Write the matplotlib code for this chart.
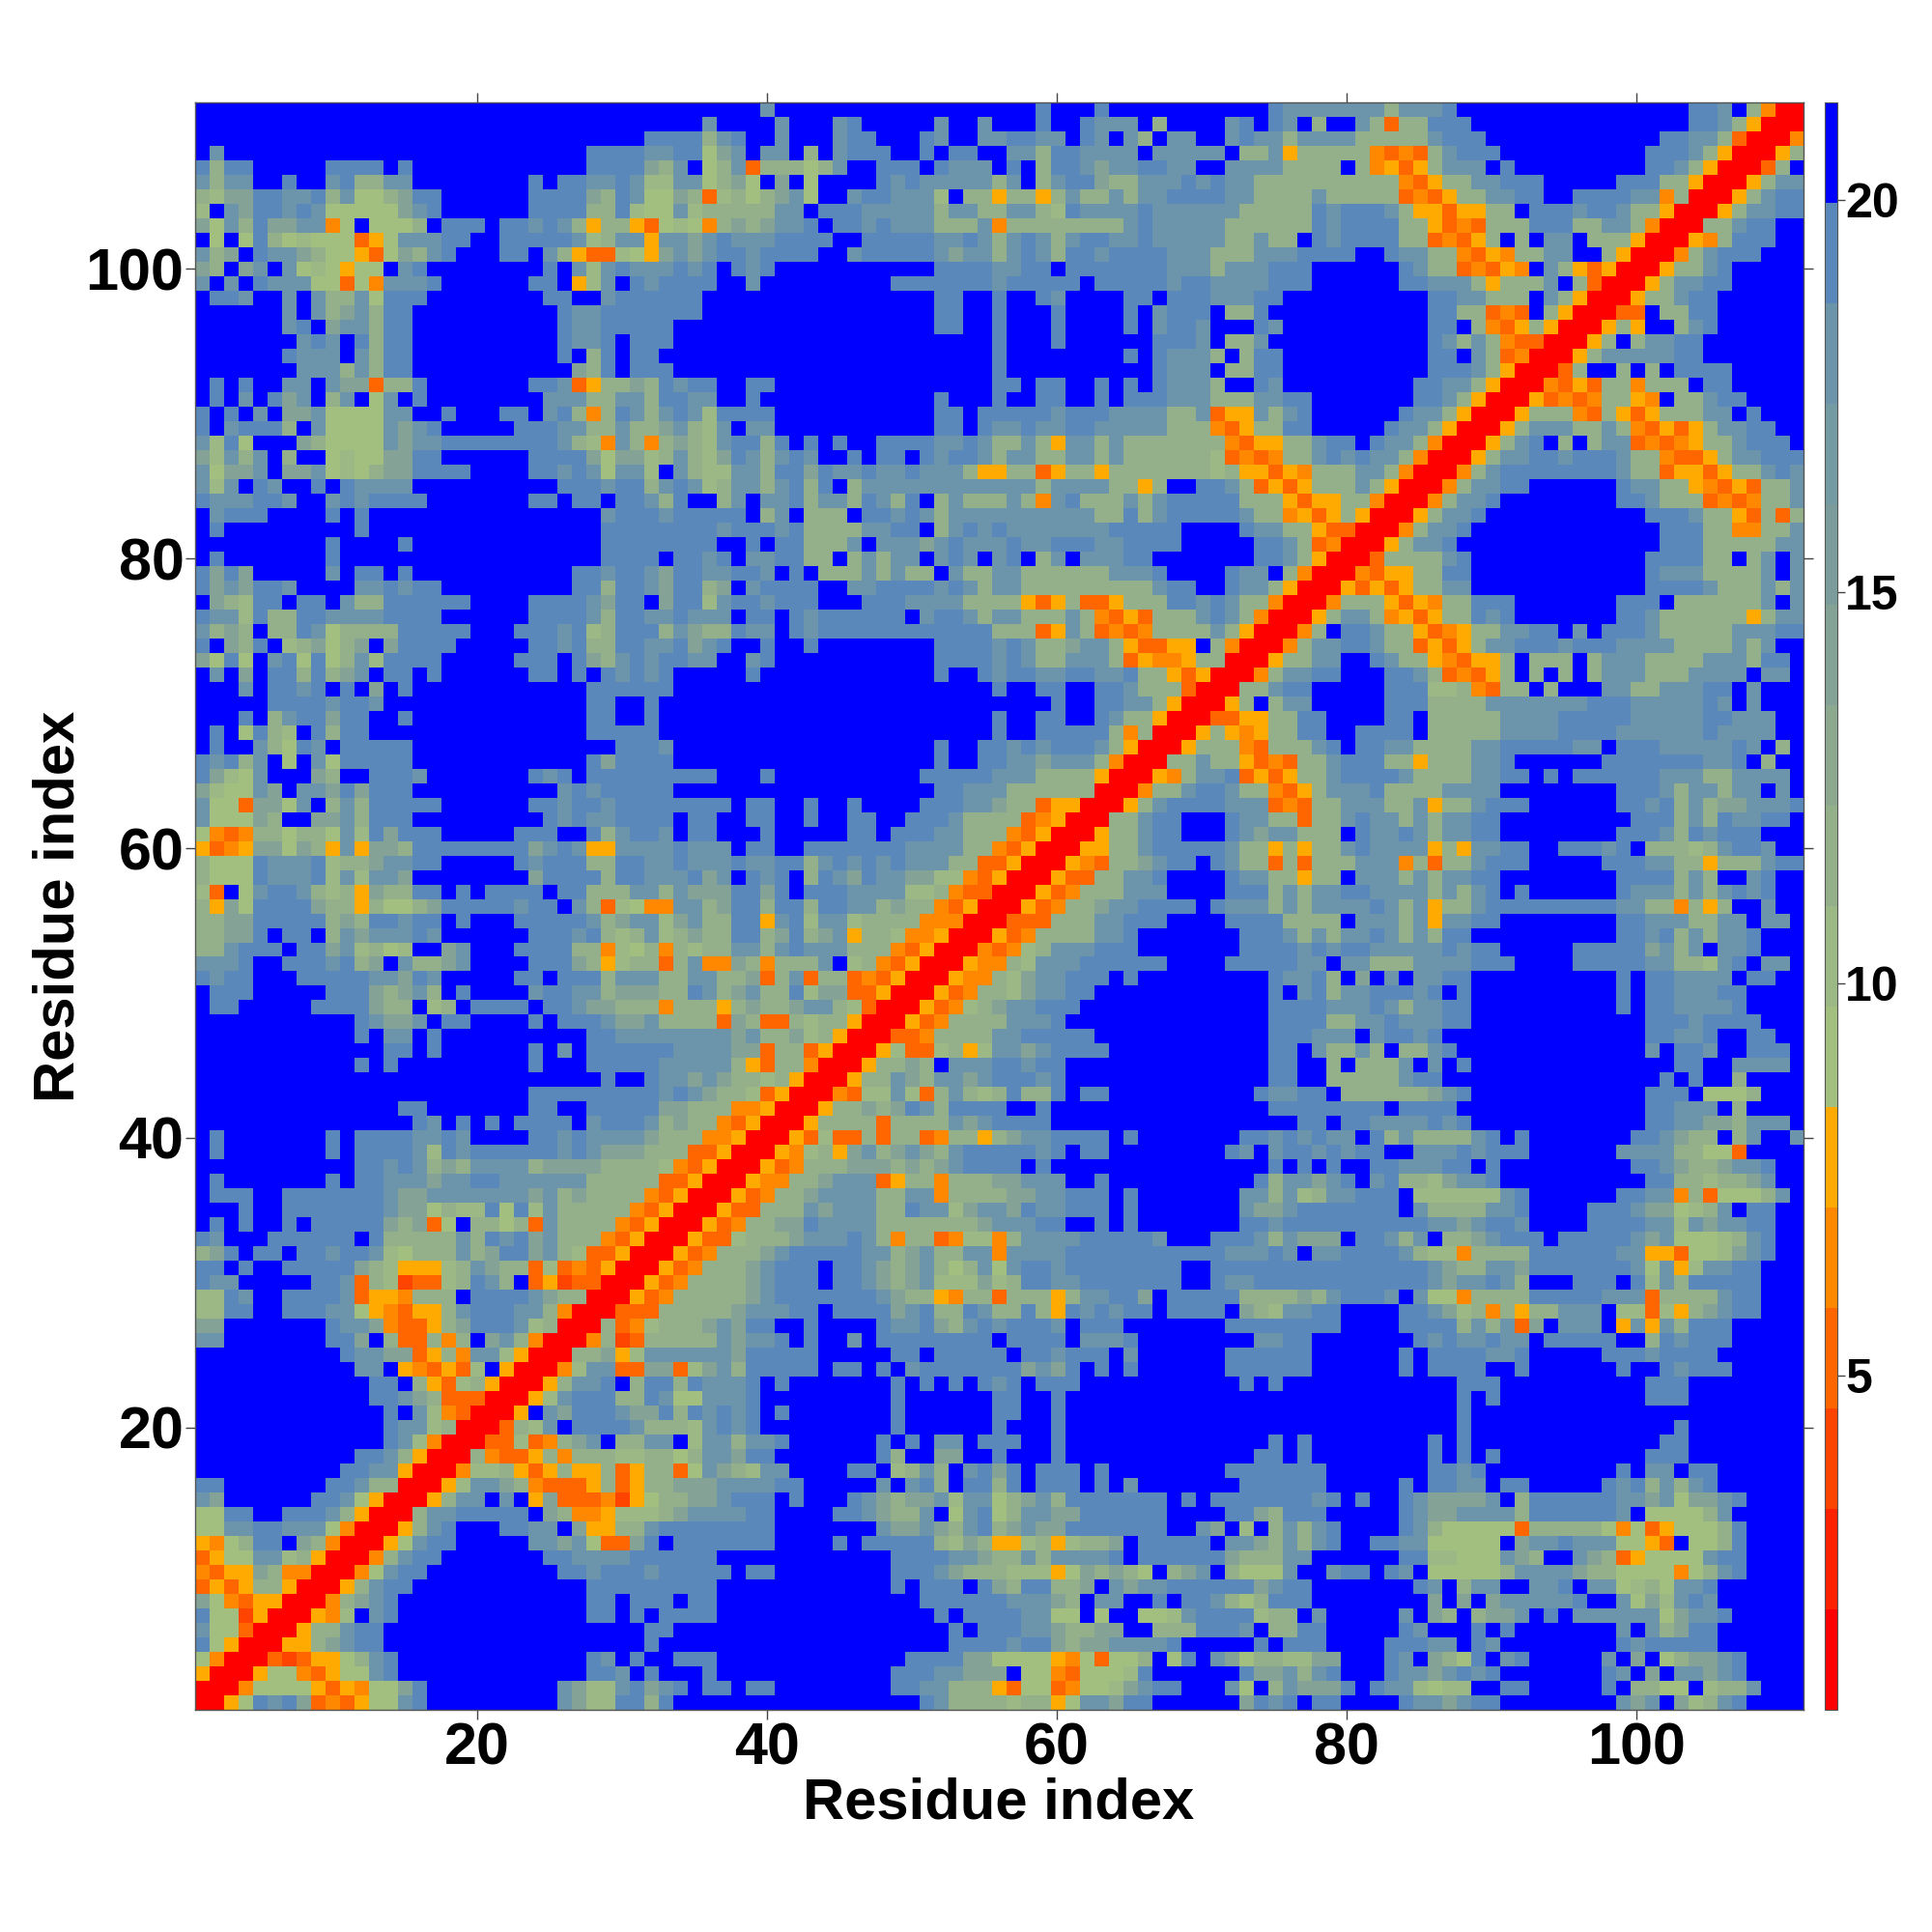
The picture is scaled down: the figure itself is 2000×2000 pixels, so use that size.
"""Residue distance map, binned; only the half with x >= y is stored."""

import matplotlib

matplotlib.use("Agg")
import matplotlib.pyplot as plt
import numpy as np
from matplotlib.colors import BoundaryNorm, ListedColormap

N_RES = 111

# one row per residue y, starting at x = y; each char is a distance bin code
ROW_CODES = [
    "0056dcdb34 3577cdffff fffffcb99d dadfffffff ffffffffff dcaaaa9aa5 7ccbddffff ffbdcdfddf fffdccbcdd ffffffffcb cfb9acdffff",
    "004888853 5478bdffff fffffcb99c dbcdfddfdd ffffffffdd ccaaa53773 4889bcddff fc8facbbbd fdcc9799ff ddfffffdfa a88f9aacfff",
    "00588435 88cdffffff fffffffddc fdfffdffff ffffffffdd dccbbbf884 38889dffff ffdbbcacdf ffdccbcdcd fffffffdcf bfccbcdffff",
    "0032355 8acdffffff fffffffdcf dffdddffff fffffffffd dddbb88885 48388af8df cb7aa99bbf ffdcfba8df cdfffffcfb f7abbcdffff",
    "0055ab cddfffffff ffffffffff fdffffffff ffffffffff ffddddcddb abbccccdff fffdfdddff ffdddccfdc ffffffffdc dddddffffff",
    "005aa cddfffffff ffffffffff fddfffffff ffffffffff ffdfdddccb aabbffaaad ddcfaaddff fffdcfffdf dfffffffcf cabddffffff",
    "0054 9fcdffffff fffffffddf dfddddffff ffffffffff fdfddddcc8 8f7ff889cd ddd9aafcff fffcfbafab bcfdfccccc c7bccdfffff",
    "004 abcdffffff fffffffddf dddfddffff ffffffffff ddddddcccb afccffdfdd ca7adddfff fffffbfbfb cccccdffc8 b9cdcffffff",
    "00 5acddfffff fffffffddd ddddddffff ffffffffdf dddfdbadda abfcbccddd dddbcddfff ffffdcfacc ffccdfcc89 a8ccdffffff",
    "0 048cddffff fffffddcdd dcdddddfdd ffffffffdd dcbaaa9995 8baba8fabc fa877cffcd dfdcf77777 accccbaa77 7748acdffff",
    "004acddfff ffffddcccc ddddddffff ffffffffdd ddccbaacac cccdfddddd dbaaaccfff fffdd99888 cbaffcba35 8888cddffff",
    "0058cddff fffccbc833 bdfddddddd ffffdfdddd da9ba559a5 9aabfddddd fccbacacdf fddcc77778 fbccdccc88 53f88adffff",
    "005acdff fddccfb55a acdddddddd fffffffcbb cbacdabcbb dddddddffc bf9facacdf fffdca8777 73aaaaa848 35888adffff",
    "00accdd dddfba4459 99abccccdd ffffddcbaa cf8cd8accb bddddddfff fddbadddff fffdcbbccc caddddddcf 8888acfffff",
    "005acc fcf5b33342 58aabbcddd fdfffdcbab bc9cc8abca dddddddfdf dddddddcdf dffdcbbbbc faddddddcc bc8bbcdffff",
    "0059c cba43335a3 5aabbbcccc ddfffffcfc dafddadfdd dfdfcfffff ffddddddff fffdfddccf ddfffffdcd acacdffffff",
    "0049 9a535a55a3 5aa38cba9c cffffddf9a cafcdbdfdd dfdfffffff fdddddddff fffffddcdf ffffffffdf ccfddffffff",
    "00a 4335a4aaa9 9aa8accbdd fffffffdaf fbbffdfffd ffffffffff fffddfdfff fffffdfdfd ffffffffff dddffffffff",
    "00 33934abcfa accf9ccacc dffffffdfd fccfdddffd ffffffffff ffffdfdfff fffffdfdff ffffffffff fddffffffff",
    "0 03a9cfdddd caaa9cdcdf ffffffffdf fffffdfffd ffffffffff ffffffffff fffffffdff ffffffffff ffdffffffff",
    "005fcbdddc bbdadcdcdf dfffffffdf fffffddffd ffffffffff ffffffffff fffffffdff ffffffffff fffffffffff",
    "0059cddda adc88cccdf ffffffffdf fffffddffd ffffffffff ffffffffff fffffffdfd ffffffffff dddffffffff",
    "005accdf addadcccdf dfffffffdf dfdfdcdfdd dfffffffff ffdfdfffff fffffffddd ffffffffff dddffffffff",
    "0049cc3 3bb39bcadd dddfddfdfc dddddddbcb dfdfdfffff fddddddfff fffdfddddf fdffffffdf fdcdddfffff",
    "00aab5 9ccccccbdd dddfffffdd fdddddfddc dddfcfffff fddddddfff fffdfddddc cdfffffddd cddddffffff",
    "004a2 3aaaaacbcc dfdffcfddd dddddfdddd fcccdfffff fffccddfff ffffdcdccd ccfdddddff adcdddfffff",
    "00a3 49aaabcbdd ffdffffdcc dbacdcdddc fdddffffff fddddddddf fffddddaca c3bfcccf5c 5cadddfffff",
    "003 33aaaaabcc cddfddddbc daadcaada5 dcdcddfddd dfba9ccddf fffddcb9a4 a5aacccf99 395abcddfff",
    "00 534aaaaabc dddddddcba a54aa3aaa5 accddbfddd ddaaaabacd ddcfc884aa aadddddccc 3aaaacddfff",
    "0 0534aaaabc dddfddcbab c999b9addc cdddddddff dccddddddd dddddcbccd cafffdddfd 9cadddddfff",
    "00534aaabc dddfddcbab ca8ac8cddc ddddddddff dddddddddd dddddcbaac cbdddddddc 8c59ccddfff",
    "00534aaab cdddddccab caacc4cccc dddddddddd dcccdcfccd dddca994aa aaddddddcc 553889bcdff",
    "005339aa abcccdca4a a34994accc cdddddcfff dddcacbbbf ddcacfaabc dddfdddddc bc8889acdff",
    "00534aa bbdccccaaa aaaabcccdd ffdfdfffff ffddcddddd dddddccbcd dcffffdddd cc9cbccddff",
    "00533a aacbcccaad cc9bccbdcc dddfdfffff ffcbbcdddd dddfcaaaac cdffffdddc bb89acfddff",
    "00534 aabccccaac c4aaaabbcc dddfdfffff ffccac9acc dddf999999 cdffffffdd cc4a3888acf",
    "0054 4aabccc35a a4aaabbccc ffdfffffff fffdaccbcd fcdaa9bccd ffffffffff ddaa9aabcff",
    "005 34aaabbbab abcddddfdf ffffffffff ffffdfdfdf fddcccddfd fffffffffd dcbaabccdff",
    "00 549a5bcabc bacdddddcd fddfffffff fdcfcddcdc ddffcccdcd ddffffffcc ccaa883ffff",
    "0 053933a3aa 34aa5abccd dddfdfffff ffddcdcdcc fdacaaaacd fdfffffffd dcbaafacffc",
    "005aaaa3aa aacbcddddf ffffffffff ffffffddfd dccccdcdff ffffffffff ddccbbacccf",
    "005aababd caddddffdf ffffffffff ffffdddddd ddfddddfff ffffffffff ddcccfaffff",
    "004399c9 3aca9adaad fddfffffff fffdccddfa aaaaabcdff ffffffffff dddf888afff",
    "005aacb accbcdddcd ffffffffff ffffddffaa aaacddffff ffffffffff fdfdffaffff",
    "005aab afcccddcdd ffffffffff ffffddffaf aaacfcfdff ffffffffff ffddffccccf",
    "00593 39a59ccbcd dddfffffff ffffddfcaa cafaacdfff ffffffffff cfddcffdddf",
    "0033 4aaaaccddd ddffffffff ffffdddccc fcddcdffff ffffffffff ddccdffddff",
    "005 34aaaacccd ffffffffff ffffddddaa ccdcccddff ffffffffff dddcddddfff",
    "00 5349abccdd dfffffffff ffffddddcc cdcaccddff ffffffffdf ddccccdffff",
    "0 0534aa9bcc ddffffffff ffffdfcdac cdddcdfdff ffffffffdf ddcccddffff",
    "00544a9bcc dddfdfffff ffffdccdaf bfcfccddff ffffffffdf ddccccfddff",
    "00544a9cc cddddddfff fdddddccfc caaaccccdd dffffddddd ccaa9cdfccf",
    "004349ac ccdddfffff ffddddcdcd dcccccdcdd fffffddddd bcacfccdfff",
    "00534aa aaccdfffff ffdddcacac cdcacaddff ffffffffdd cdacaccdfff",
    "00333a aaccdddfff fddddaaaaf cccac5ccdd ffffffffdd cccaaccfccf",
    "00534 aabccddddf dcccacaccc cdcac5aacd ddddddddcc aa4a5affcff",
    "0053 4aaacccfff fdddacaccd dccccacacd fdffffffdc ccacacdcdff",
    "005 33aaccdfff fdccaa5aaf cccacaccdd ffffffffdd ddacaffcdff",
    "00 543aabcddf dcaa3a3aaa ccc4a3aacd ddfffffddd ccaa5aaacdd",
    "0 055aacdddd dcaa5a5aac dcccc5a5cc ddffdddcdf aaa9acddcff",
    "005aacddff fdcbccaaaf dccdcaccdd ffffffffdd dcadcdddfff",
    "00aacddff fdccaa3aac dccacaccdd fffffffffd ddacadccddf",
    "005acddd dccc343aac ccaac5aacd ddffffffdd cdacabbcccd",
    "004aacd dcaa435acc cdaaaacccc ffffffffdd dcaccaccfcf",
    "0054ac cd3535aacd dddcaaaacc ddfdfddddd dcccaaccccf",
    "00aac aa5343aacd ddaa5aaacc dffffffddd ddddccdfaff",
    "005a aa43aaacdf ddccaaaacc dddddccfdd dcccccdcfaf",
    "005 a545aaddff ddddfaaaaa ccccddddcc ccccdccccff",
    "00 3355aaddff ffddfaaaaa ccccdddddc ccccddcccff",
    "0 05afaccfff ffdddaaaac ccccccdddc ccccdcfcfff",
    "00aacddfff ffddd99a43 aafafffcca acccddfcfff",
    "004accddf ffddca3435 afafafaccc aaaccccfccf",
    "005aaccf fdcaa54355 afaaafaccc aaaacccaddf",
    "004accd dcaa3535ac cdddcdddcc ccaaaacacff",
    "004afd dcaa5345aa ccddfcfddd caaaaacccdd",
    "005ac ca4535aadc dfffffffdd caaaaaa5acc",
    "004a aa5354aadd dfffffffdd dfaaaaaacfc",
    "005 3535aaccff ffffffffff ddddcaaacac",
    "00 4355aaddff ffffffffff dcccaaaacfc",
    "0 03aaaacdff ffffffffff ddddaafacfc",
    "005accdfff ffffffffff fdddaaaaacc",
    "004accdff ffffffffff fdddaa44aac",
    "005accdf ffffffffff dddcaa53a3a",
    "004accd ffffffffdd caaa3434aac",
    "004acc ddffffffdc caa54353aac",
    "004ac ddddddddca a35535aacdc",
    "005a ccddcdddca a4335accddd",
    "005 acdfafacc3 4345aacdddf",
    "00 5acccaaca4 3535accddff",
    "0 05aaa43a53 5aaaccfdfff",
    "0053434aa5 4faacddffff",
    "004353aa4 aaafddfffff",
    "003affaf afddddfffff",
    "005accc ccddfffffff",
    "005afa ccddfffffff",
    "005a5 ffacdffffff",
    "0033 faaddffffff",
    "005 aacddffffff",
    "00 5accddfffff",
    "0 05aacdfffff",
    "004acdddfff",
    "0054adddff",
    "00aacddff",
    "005accdd",
    "005acdd",
    "005acc",
    "003af",
    "005a",
    "004",
    "00",
    "0",
]

CODE_CHARS = "0123456789abcdef"
# distance per code, read against the colour bar
CODE_DISTANCE = [1.4, 2.7, 4.0, 5.2, 6.5, 7.8, 9.1, 9.1, 9.1, 10.4, 11.6, 14.2, 18.1, 19.3, 19.3, 20.6]

BAR_EDGES = np.linspace(0.74, 21.24, 17)
BAR_COLORS = [
    "#ff0000", "#ff2200", "#ff4400", "#ff6600", "#ff8800", "#ffaa00",
    "#a2bf80", "#9bb885", "#94b08a", "#8ca98f", "#84a295", "#7c9c9c",
    "#749ba3", "#6c94aa", "#5a88ba", "#0000ff",
]

TICKS = [20, 40, 60, 80, 100]
BAR_TICKS = [5, 10, 15, 20]


def load_matrix() -> np.ndarray:
    dist = np.zeros((N_RES, N_RES))
    for y, row in enumerate(ROW_CODES):
        for k, c in enumerate(row.replace(" ", "")):
            value = CODE_DISTANCE[CODE_CHARS.index(c)]
            dist[y, y + k] = value
            dist[y + k, y] = value
    return dist


def main() -> None:
    plt.rcParams["font.family"] = ["Liberation Sans", "DejaVu Sans"]
    plt.rcParams["font.weight"] = "bold"

    cmap = ListedColormap(BAR_COLORS)
    norm = BoundaryNorm(BAR_EDGES, cmap.N)

    fig = plt.figure(figsize=(20, 20), dpi=100)
    ax = fig.add_axes([0.1008, 0.115, 0.8325, 0.832])
    im = ax.imshow(
        load_matrix(),
        origin="lower",
        extent=(0.5, N_RES + 0.5, 0.5, N_RES + 0.5),
        cmap=cmap,
        norm=norm,
        interpolation="nearest",
        aspect="auto",
    )
    ax.set_xticks(TICKS)
    ax.set_yticks(TICKS)
    ax.tick_params(top=True, right=True, length=7, width=1, color="#444444", labelsize=44, pad=1)
    ax.tick_params(axis="x", pad=2)
    ax.set_xlabel("Residue index", fontsize=43, fontweight="bold", labelpad=0)
    ax.set_ylabel("Residue index", fontsize=43, fontweight="bold", labelpad=0)
    for spine in ax.spines.values():
        spine.set_color("#555555")
        spine.set_linewidth(1)

    cax = fig.add_axes([0.9445, 0.115, 0.0065, 0.832])
    bar = fig.colorbar(im, cax=cax, ticks=BAR_TICKS, spacing="proportional", drawedges=False)
    bar.ax.minorticks_off()
    bar.ax.tick_params(length=6, width=1, color="#444444", labelsize=36, pad=0)
    bar.outline.set_edgecolor("#555555")
    bar.outline.set_linewidth(0.8)

    fig.savefig("out.png", dpi=100)


if __name__ == "__main__":
    main()
